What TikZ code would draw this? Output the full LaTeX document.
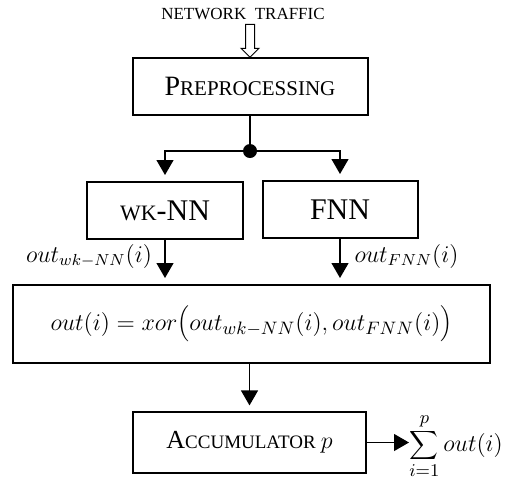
\documentclass[tikz,border=0pt]{standalone}
\usepackage{fontspec}
\setmainfont{Liberation Serif}
\usetikzlibrary{arrows.meta, shapes.arrows}

\begin{document}
\begin{tikzpicture}[x=0.5pt, y=-0.5pt,
	block/.style={draw, line width=1pt, inner sep=0pt},
	arr/.style={line width=0.6pt, -{Triangle[length=7.5pt, width=8.5pt]},
        shorten >=3pt}]
	\useasboundingbox (0, 0) rectangle (517, 488);
	% input
	\node (traffic) at (243, 14) [font=\fontsize{8.5}{10}\selectfont]
        {NETWORK\ \ TRAFFIC};
	\node (inarrow) at (250, 38.5) [single arrow, draw, line width=0.5pt,
        rotate=-90, minimum height=16.5pt, minimum width=8.5pt,
        single arrow head extend=2.25pt, inner sep=2pt] {};
	\node (pre) at (250, 86.5) [block, minimum width=117.5pt, minimum
        height=28.5pt] {{\fontsize{14}{16}\selectfont P}{\fontsize{10.5}{12}\selectfont REPROCESSING}};
	\node (split) at (250, 151) [circle, fill, inner sep=0pt, minimum
        size=7pt] {};
	% classifiers
	\node (wk) at (165, 210.5) [block, minimum width=78pt, minimum
        height=28.5pt] {{\fontsize{11}{13}\selectfont WK}{\fontsize{15}{17}\selectfont -NN}};
	\node (fnn) at (340, 209.5) [block, minimum width=77.5pt, minimum
        height=28.5pt, font=\fontsize{15}{17}\selectfont] {FNN};
	\node (wkout) at (89, 256) [font=\fontsize{12}{14}\selectfont]
        {$out_{wk-NN}(i)$};
	\node (fnnout) at (406.5, 256) [font=\fontsize{12}{14}\selectfont]
        {$out_{FNN}(i)$};
	\node (xor) at (251.5, 324) [block, minimum width=238.5pt, minimum
        height=39pt, font=\fontsize{13}{15}\selectfont]
        {$out(i) = xor\Bigl(out_{wk-NN}(i),out_{FNN}(i)\Bigr)$};
	% output
	\node (accum) at (249.5, 442.5) [draw, line width=0.6pt, inner sep=0pt,
        minimum width=116.5pt, minimum height=30.5pt]
        {{\fontsize{13}{15}\selectfont A}{\fontsize{9.5}{11}\selectfont CCUMULATOR}\ {\fontsize{13}{15}\selectfont $p$}};
	\node (total) at (409, 446) [anchor=west, inner sep=0pt,
        font=\fontsize{13}{15}\selectfont] {$\displaystyle\sum_{i=1}^{p} out(i)$};

	\draw[line width=0.6pt] (pre) -- (split);
	\draw[arr] (split) -| (wk);
	\draw[arr] (split) -| (fnn);
	\draw[arr] (wk) -- (wk |- xor.north);
	\draw[arr] (fnn) -- (fnn |- xor.north);
	\draw[arr] (xor.south -| accum) -- (accum);
	\draw[arr, shorten >=0pt] (accum.east) -- (accum.east -| total.west);
\end{tikzpicture}
\end{document}
